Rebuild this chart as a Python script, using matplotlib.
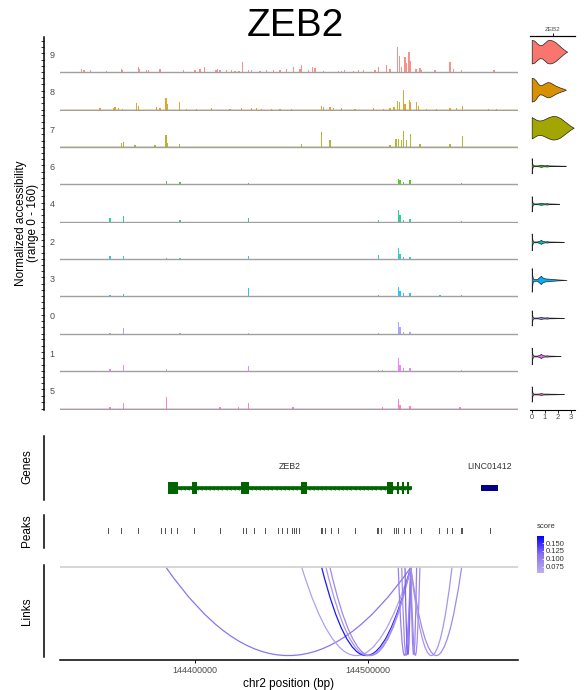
import numpy as np
import matplotlib
matplotlib.use("Agg")
import matplotlib.pyplot as plt
from matplotlib.path import Path
from matplotlib.patches import PathPatch, Rectangle
from matplotlib.colors import LinearSegmentedColormap, Normalize
from matplotlib.lines import Line2D
from matplotlib.colorbar import ColorbarBase

plt.rcParams['font.family'] = ['Liberation Sans', 'DejaVu Sans']

# ---- data (positions in kb on chr2) ----
region = [144322.1, 144586.4]
clusters = ["9", "8", "7", "6", "4", "2", "3", "0", "1", "5"]
track_colors = ["#F8766D", "#D89000", "#A3A500", "#39B600", "#00BF7D",
                "#00BFC4", "#00B0F6", "#9590FF", "#E76BF3", "#FF62BC"]

pos_9 = [144334.6, 144335.9, 144339.8, 144349.0, 144357.7, 144358.3, 144367.3, 144367.9, 144372.1, 144373.0,
         144379.8, 144393.2, 144400.0, 144402.9, 144405.4, 144412.1, 144412.9, 144414.4, 144418.3, 144421.2,
         144423.1, 144425.4, 144427.5, 144430.7, 144432.7, 144437.5, 144441.4, 144445.2, 144449.0, 144452.9,
         144456.7, 144460.6, 144461.6, 144465.4, 144467.9, 144469.2, 144474.0, 144482.7, 144484.6, 144486.5,
         144491.3, 144494.2, 144497.1, 144503.9, 144505.8, 144510.6, 144512.5, 144516.7, 144517.9, 144519.3,
         144521.2, 144522.1, 144523.5, 144524.5, 144527.5, 144529.8, 144530.8, 144538.5, 144547.1, 144549.0,
         144553.9, 144572.5]
ht_9 = [16, 11, 11, 8, 16, 11, 24, 16, 13, 13, 16, 13, 11, 16, 24, 11, 16, 11, 11, 11,
        8, 8, 47, 11, 11, 8, 11, 11, 11, 16,
        24, 16, 36, 11, 27, 20, 8, 8, 8, 11, 8, 11, 11, 11, 24, 36, 16, 118, 79, 24,
        71, 42, 94, 55, 16, 20, 11, 13, 47, 16, 13, 13]

pos_8 = [144345.2, 144352.9, 144353.8, 144355.7, 144358.3, 144366.4, 144367.3, 144377.9, 144379.8, 144383.3,
         144384.0, 144390.9, 144395.2, 144401.0, 144409.6, 144420.2, 144426.9, 144432.7, 144435.6, 144438.5,
         144444.3, 144449.0,
         144455.8, 144473.1, 144474.0, 144477.9, 144479.8, 144484.6, 144492.3, 144502.9, 144508.6, 144512.5,
         144514.8, 144516.7, 144517.9, 144520.2, 144521.2, 144523.6, 144524.5, 144527.9, 144528.8, 144533.7,
         144539.5, 144547.1, 144551.0, 144554.2, 144569.2, 144574.1]
ht_8 = [6, 6, 11, 6, 3, 30, 19, 11, 6, 55, 27, 35, 3, 3, 6, 4, 6, 6, 6, 5, 3, 3,
        3, 19, 11, 14, 6, 6, 4, 6, 5, 6, 11, 39, 35, 93, 27, 46, 35, 35, 19, 4, 4, 6, 6, 19, 4, 4]

pos_7 = [144357.7, 144358.6, 144365.4, 144376.9, 144383.3, 144384.0, 144390.9, 144461.6, 144473.1, 144477.9,
         144512.5, 144516.0, 144517.3, 144519.3, 144520.2, 144522.1, 144524.5, 144529.8, 144547.1, 144554.4]
ht_7 = [19, 24, 8, 8, 58, 20, 16, 16, 71, 35, 8, 39, 39, 31, 75, 31, 63, 16, 16, 50]

pos_6 = [144383.7, 144391.3, 144430.7, 144465.4, 144517.3, 144518.3, 144520.2, 144524.1, 144553.9]
ht_6 = [17, 13, 8, 4, 27, 20, 11, 22, 6]

pos_4 = [144351.0, 144358.6, 144391.3, 144430.7, 144505.8, 144517.3, 144518.3, 144520.2, 144524.1, 144553.9]
ht_4 = [16, 27, 8, 16, 6, 54, 30, 9, 14, 4]

pos_2 = [144351.0, 144358.6, 144383.7, 144391.3, 144430.7, 144505.8, 144517.3, 144518.3, 144520.2, 144524.1]
ht_2 = [14, 14, 4, 4, 14, 19, 54, 25, 9, 9]

pos_3 = [144351.0, 144358.6, 144430.7, 144505.8, 144517.3, 144518.3, 144520.2, 144524.1, 144541.4, 144553.9]
ht_3 = [6, 12, 38, 6, 46, 28, 14, 17, 6, 5]

pos_0 = [144351.0, 144358.6, 144391.3, 144430.7, 144505.8, 144517.3, 144518.3, 144520.2, 144524.1]
ht_0 = [6, 25, 3, 6, 5, 55, 31, 8, 8]

pos_1 = [144351.0, 144358.6, 144383.7, 144430.7, 144505.8, 144508.3, 144517.3, 144518.3, 144520.2, 144524.1,
         144553.9]
ht_1 = [8, 27, 8, 24, 5, 5, 60, 28, 13, 13, 4]

pos_5 = [144351.0, 144358.6, 144383.7, 144414.4, 144425.0, 144430.7, 144456.5, 144508.3, 144517.3, 144518.3,
         144524.1, 144552.9]
ht_5 = [8, 25, 52, 6, 6, 25, 5, 9, 44, 17, 13, 8]

track_pos = [pos_9, pos_8, pos_7, pos_6, pos_4, pos_2, pos_3, pos_0, pos_1, pos_5]
track_ht = [ht_9, ht_8, ht_7, ht_6, ht_4, ht_2, ht_3, ht_0, ht_1, ht_5]
noise_floor = [2, 3, 4, 1, 1, 1, 3, 1, 1, 1]

# violin profiles: expression value and half width (in row units)
vln_x_9 = [0, 0.2, 0.4, 0.6, 0.8, 1.0, 1.2, 1.4, 1.6, 1.8, 2.0, 2.2, 2.4, 2.6, 2.7]
vln_w_9 = [0.31, 0.29, 0.22, 0.17, 0.18, 0.24, 0.3, 0.31, 0.29, 0.25, 0.19, 0.13, 0.07, 0.02, 0]
vln_x_8 = [0, 0.15, 0.3, 0.45, 0.6, 0.8, 1.0, 1.2, 1.4, 1.6, 1.8, 2.0, 2.2, 2.4, 2.6]
vln_w_8 = [0.31, 0.3, 0.25, 0.17, 0.12, 0.13, 0.17, 0.2, 0.19, 0.15, 0.11, 0.08, 0.05, 0.03, 0]
vln_x_7 = [0, 0.2, 0.4, 0.6, 0.8, 1.0, 1.3, 1.6, 1.9, 2.2, 2.5, 2.8, 3.0, 3.2]
vln_w_7 = [0.28, 0.24, 0.2, 0.19, 0.2, 0.23, 0.28, 0.31, 0.3, 0.25, 0.17, 0.09, 0.04, 0]
vln_x_6 = [0, 0.02, 0.06, 0.12, 0.4, 0.6, 0.7, 0.8, 1.0, 1.15, 1.3, 1.8, 2.6]
vln_w_6 = [0.2, 0.12, 0.04, 0.012, 0.01, 0.018, 0.03, 0.018, 0.012, 0.02, 0.01, 0.007, 0]
vln_x_4 = [0, 0.02, 0.06, 0.12, 0.4, 0.6, 0.7, 0.8, 1.0, 1.15, 1.3, 1.7, 2.1]
vln_w_4 = [0.2, 0.12, 0.04, 0.012, 0.01, 0.018, 0.03, 0.018, 0.012, 0.018, 0.01, 0.007, 0]
vln_x_2 = [0, 0.02, 0.06, 0.12, 0.4, 0.6, 0.7, 0.8, 1.0, 1.15, 1.3, 1.8, 2.45]
vln_w_2 = [0.22, 0.13, 0.05, 0.012, 0.01, 0.03, 0.055, 0.028, 0.012, 0.018, 0.01, 0.007, 0]
vln_x_3 = [0, 0.02, 0.06, 0.12, 0.4, 0.6, 0.7, 0.8, 1.0, 1.2, 1.5, 2.0, 2.65]
vln_w_3 = [0.31, 0.2, 0.08, 0.025, 0.02, 0.08, 0.11, 0.07, 0.04, 0.035, 0.025, 0.012, 0]
vln_x_0 = [0, 0.02, 0.06, 0.12, 0.4, 0.6, 0.7, 0.8, 1.0, 1.15, 1.3, 1.8, 2.45]
vln_w_0 = [0.2, 0.12, 0.04, 0.012, 0.01, 0.018, 0.033, 0.018, 0.012, 0.018, 0.01, 0.007, 0]
vln_x_1 = [0, 0.02, 0.06, 0.12, 0.4, 0.6, 0.7, 0.8, 1.0, 1.15, 1.3, 1.7, 2.2]
vln_w_1 = [0.22, 0.13, 0.05, 0.012, 0.01, 0.03, 0.058, 0.028, 0.012, 0.018, 0.01, 0.007, 0]
vln_x_5 = [0, 0.02, 0.06, 0.12, 0.4, 0.6, 0.7, 0.8, 1.0, 1.15, 1.3, 1.8, 2.45]
vln_w_5 = [0.2, 0.12, 0.04, 0.012, 0.01, 0.016, 0.028, 0.016, 0.01, 0.013, 0.009, 0.007, 0]
vln_x = [vln_x_9, vln_x_8, vln_x_7, vln_x_6, vln_x_4, vln_x_2, vln_x_3, vln_x_0, vln_x_1, vln_x_5]
vln_w = [vln_w_9, vln_w_8, vln_w_7, vln_w_6, vln_w_4, vln_w_2, vln_w_3, vln_w_0, vln_w_1, vln_w_5]

# genes
gene_names = ["ZEB2", "LINC01412"]
gene_start = [144384.7, 144565.0]
gene_end = [144525.1, 144574.8]
gene_strand = ["-", "+"]
gene_colors = ["darkgreen", "darkblue"]
zeb2_exon_start = [144384.7, 144398.3, 144426.5, 144461.2, 144510.8, 144516.6, 144519.4, 144522.3]
zeb2_exon_end = [144390.3, 144401.2, 144431.1, 144464.6, 144514.2, 144517.7, 144520.6, 144523.5]

# peaks
peaks = [144350.1, 144357.7, 144367.4, 144380.4, 144383.0, 144386.7, 144390.1, 144399.8, 144414.9, 144427.9,
         144430.0, 144434.4, 144440.8, 144448.4, 144450.6, 144453.4, 144456.4, 144457.5, 144458.8, 144460.3,
         144473.3, 144475.4, 144478.6, 144483.0, 144492.7, 144505.6, 144507.8, 144515.4, 144516.5, 144517.5,
         144520.8, 144524.1, 144530.5, 144541.3, 144545.6, 144548.5, 144553.6, 144554.3, 144570.5]

# links
link_start = [144383.3, 144461.6, 144473.1, 144475.6, 144477.9, 144517.3, 144519.3, 144521.2,
              144524.5, 144524.5, 144524.5, 144524.5]
link_end = [144524.5, 144524.5, 144524.5, 144524.5, 144524.5, 144524.5, 144524.5, 144524.5,
            144527.9, 144529.8, 144548.3, 144553.9]
link_score = [0.11, 0.07, 0.16, 0.08, 0.09, 0.10, 0.09, 0.12, 0.10, 0.09, 0.08, 0.09]

# ---- figure ----
W, H = 587, 690
fig = plt.figure(figsize=(W / 100, H / 100), dpi=100)


def box(x0, y0, x1, y1):
    return [x0 / W, 1 - y1 / H, (x1 - x0) / W, (y1 - y0) / H]


def vline_fig(x, y0, y1):
    fig.add_artist(Line2D([x / W, x / W], [1 - y0 / H, 1 - y1 / H], color="black", lw=1.1))


xlim = (region[0] * 1000, region[1] * 1000)
grey_txt = "#4d4d4d"

fig.text(295 / W, 1 - 26 / H, "ZEB2", fontsize=28, ha="center", va="center")

# coverage tracks
cov_top, row_h = 36.7, 37.35
for i, cl in enumerate(clusters):
    y0 = cov_top + i * row_h
    ax = fig.add_axes(box(60, y0, 518, y0 + row_h))
    ax.set_xlim(xlim)
    ax.set_ylim(-8, 168)
    ax.fill_between(xlim, 0, noise_floor[i], color=track_colors[i], alpha=0.25, lw=0)
    ax.bar(np.array(track_pos[i]) * 1000, track_ht[i], width=700, color=track_colors[i], lw=0, alpha=0.8)
    ax.axhline(0, color="#a0a0a0", lw=1.0)
    ax.axis("off")
    fig.text(52 / W, 1 - (y0 + row_h * 0.5) / H, cl, fontsize=6.5, color=grey_txt, ha="center", va="center")

# left axis with ticks for the coverage block
tax = fig.add_axes(box(44, cov_top, 45, cov_top + 10 * row_h))
tax.set_ylim(0, 10 * 176)
tax.set_yticks([r * 176 + 8 + v for r in range(10) for v in (0, 30, 60, 90, 120, 150)])
tax.set_yticklabels([])
tax.tick_params(axis="y", length=2.5, width=0.7, color="#333333")
tax.set_xticks([])
for s in ["right", "top", "bottom"]:
    tax.spines[s].set_visible(False)
tax.spines["left"].set_linewidth(1.1)
tax.patch.set_visible(False)
fig.text(27 / W, 1 - 223 / H, "Normalized accessibility\n(range 0 - 160)", rotation=90,
         fontsize=8.5, ha="center", va="center", linespacing=1.1)

# violin panel
vax = fig.add_axes(box(530, 35.7, 575, 410))
vax.set_xlim(-0.13, 3.3)
vax.set_ylim(9.42, -0.42)
for i in range(len(clusters)):
    xs = np.array(vln_x[i])
    ws = np.array(vln_w[i])
    vax.fill_between(xs, i - ws, i + ws, facecolor=track_colors[i], edgecolor="#222222", lw=0.5)
for s in ["left", "right"]:
    vax.spines[s].set_visible(False)
vax.spines["bottom"].set_linewidth(0.8)
vax.spines["top"].set_linewidth(0.8)
vax.set_yticks([])
vax.set_xticks([0, 1, 2, 3])
vax.tick_params(axis="x", labelsize=5.5, length=2, width=0.6, pad=1, labelcolor=grey_txt)
top = vax.secondary_xaxis("top")
top.set_xticks([1.585], labels=["ZEB2"])
top.tick_params(labelsize=4.5, length=2, width=0.6, pad=0.5, labelcolor=grey_txt)

# genes
gax = fig.add_axes(box(60, 436, 518, 500))
gax.set_xlim(xlim)
gax.set_ylim(0, 1)
gy = 0.19
for name, s, e, st, c in zip(gene_names, gene_start, gene_end, gene_strand, gene_colors):
    gax.plot([s * 1000, e * 1000], [gy, gy], color=c, lw=2.6, solid_capstyle="butt")
    arrows = np.arange(s + 1.2, e - 0.5, 2.4) * 1000
    gax.plot(arrows, np.full(len(arrows), gy), ls="none", marker="<" if st == "-" else ">",
             ms=3.2, color=c, mew=0)
    gax.text((s + e) / 2 * 1000, 0.52, name, fontsize=6.3, color="#333333", ha="center", va="center")
gax.add_patch(Rectangle((gene_start[1] * 1000, gy - 0.05), (gene_end[1] - gene_start[1]) * 1000, 0.1,
                        color=gene_colors[1], lw=0))
for s, e in zip(zeb2_exon_start, zeb2_exon_end):
    gax.add_patch(Rectangle((s * 1000, gy - 0.095), (e - s) * 1000, 0.19, color=gene_colors[0], lw=0))
gax.axis("off")
vline_fig(44, 436, 500)
fig.text(27 / W, 1 - 467 / H, "Genes", rotation=90, fontsize=8.5, ha="center", va="center")

# peaks
pax = fig.add_axes(box(60, 515, 518, 548))
pax.set_xlim(xlim)
pax.set_ylim(0, 1)
pax.bar(np.array(peaks) * 1000, 0.19, bottom=0.42, width=600, color="#555555", lw=0)
pax.axis("off")
vline_fig(44, 515, 548)
fig.text(27 / W, 1 - 531 / H, "Peaks", rotation=90, fontsize=8.5, ha="center", va="center")

# links
cmap = LinearSegmentedColormap.from_list("score", ["#bdb0ea", "#8a70ef", "#0000ff"])
norm = Normalize(0.056, 0.172)
lax = fig.add_axes(box(60, 563, 518, 660))
lax.set_xlim(xlim)
lax.set_ylim(-0.525, 0.025)
lax.axhline(0, color="#cccccc", lw=1.1)
for s, e, sc in zip(link_start, link_end, link_score):
    verts = [(s * 1000, 0), ((s + e) / 2 * 1000, -1), (e * 1000, 0)]
    p = Path(verts, [Path.MOVETO, Path.CURVE3, Path.CURVE3])
    lax.add_patch(PathPatch(p, fill=False, ec=cmap(norm(sc)), lw=0.9))
for s in ["left", "right", "top"]:
    lax.spines[s].set_visible(False)
lax.spines["bottom"].set_linewidth(1.1)
lax.set_yticks([])
lax.set_xticks([144400000, 144500000])
lax.set_xticklabels(["144400000", "144500000"])
lax.tick_params(axis="x", labelsize=6.5, labelcolor=grey_txt, length=2.5, width=0.7, pad=2)
lax.set_xlabel("chr2 position (bp)", fontsize=8.5, labelpad=2)
vline_fig(44, 565, 657)
fig.text(27 / W, 1 - 611 / H, "Links", rotation=90, fontsize=8.5, ha="center", va="center")

# score colorbar
cax = fig.add_axes(box(537, 536, 544, 573))
cb = ColorbarBase(cax, cmap=cmap, norm=norm, orientation="vertical")
cb.set_ticks([0.075, 0.100, 0.125, 0.150])
cb.set_ticklabels(["0.075", "0.100", "0.125", "0.150"])
cb.outline.set_visible(False)
cax.tick_params(labelsize=5.5, length=1.5, width=0.5, color="white", direction="in", pad=1.5,
                labelcolor="#333333")
fig.text(537 / W, 1 - 527 / H, "score", fontsize=5.5, ha="left", va="center", color="#333333")

fig.savefig("out.png", dpi=100)
